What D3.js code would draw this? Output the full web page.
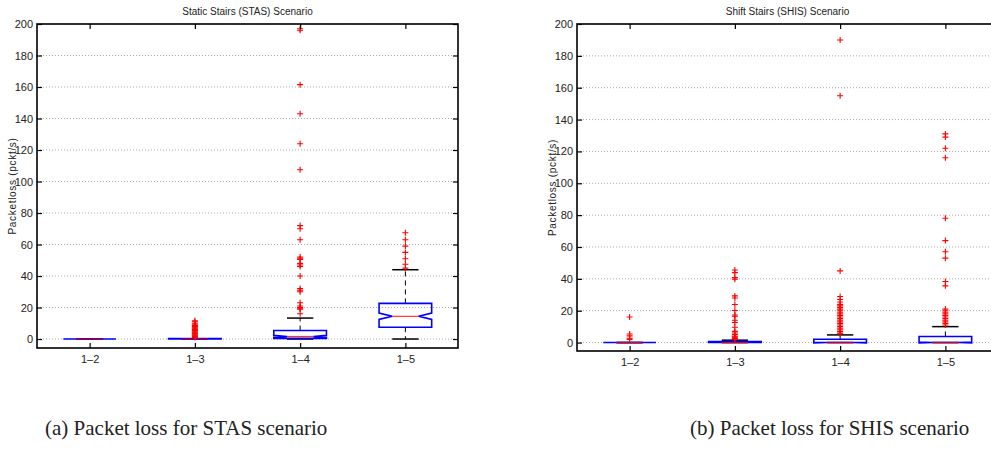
<!DOCTYPE html>
<html>
<head>
<meta charset="utf-8">
<script src="https://cdn.jsdelivr.net/npm/d3@7"></script>
<style>
  body { margin: 0; background: #fff; }
  .chart text { fill: #222; }
</style>
</head>
<body>
<svg class="chart"></svg>
<script>
const width = 991;
const height = 451;

const categories = ['1\u20132', '1\u20133', '1\u20134', '1\u20135'];
const yTicks = [0, 20, 40, 60, 80, 100, 120, 140, 160, 180, 200];

// Static Stairs (STAS)
const stasQ1 = [0, 0, 0.4, 7.5];
const stasMedian = [0, 0, 1.6, 14.4];
const stasQ3 = [0, 0.3, 5.4, 22.6];
const stasNotchLo = [0, 0, 0.9, 12.4];
const stasNotchHi = [0, 0, 2.3, 16.5];
const stasWhiskerLo = [0, 0, 0, 0];
const stasWhiskerHi = [0, 0, 13.3, 44];
const stasOutliers = [
    [],
    [1, 1.5, 2, 2.5, 3, 3.5, 4, 4.5, 5, 5.5, 6, 6.5, 7, 7.5, 8, 8.5, 9, 10, 11, 11.6],
    [197, 196, 161.5, 143, 124, 107.5, 72, 70, 63, 52, 51, 50.5, 48, 47, 46, 40, 32, 31, 30, 23, 21, 20, 19.5, 19, 16],
    [67.5, 63, 59, 55, 51, 47.5, 45]
];

// Shift Stairs (SHIS)
const shisQ1 = [0, 0, 0, 0];
const shisMedian = [0, 0, 0, 0];
const shisQ3 = [0, 0.6, 2.1, 3.8];
const shisNotchLo = [0, 0, -0.2, -0.3];
const shisNotchHi = [0, 0, 0.2, 0.3];
const shisWhiskerLo = [0, 0, 0, 0];
const shisWhiskerHi = [0, 1.5, 4.8, 10];
const shisOutliers = [
    [16, 5.4, 4.2, 2.7, 2],
    [45.6, 43.9, 40.8, 39.8, 29.3, 28, 23.9, 20.1, 17.3, 16.5, 14, 12.6, 9.6, 7, 6, 5, 4, 3.5, 3, 2.5, 2],
    [190, 155, 45, 28.9, 27, 25.5, 24, 23, 22, 21, 20, 19, 18, 17, 16, 15, 14, 13, 12, 11, 10, 9, 8, 7, 6, 5.5],
    [131, 129, 122, 116, 78, 64, 57, 53, 38.3, 35.6, 21, 20, 19, 18, 17, 16, 15, 14, 13, 12, 11]
];

const chart = d3.select('.chart')
    .attr('width', width)
    .attr('height', height);

function buildRows(q1, med, q3, nlo, nhi, wlo, whi, out) {
    return categories.map((c, i) => ({
        cat: c, q1: q1[i], med: med[i], q3: q3[i],
        nlo: nlo[i], nhi: nhi[i], wlo: wlo[i], whi: whi[i], out: out[i]
    }));
}

function drawPanel(cfg) {
    const { left, right, top, bottom, yMin, title, caption, captionX, rows } = cfg;

    const xScale = d3.scalePoint()
        .domain(categories)
        .range([left, right])
        .padding(0.5);
    const step = xScale.step();

    const yScale = d3.scaleLinear()
        .domain([yMin, 200])
        .range([bottom, top]);

    const g = chart.append('g');

    // grid
    g.append('g')
        .selectAll('line')
        .data(yTicks)
        .enter()
        .append('line')
        .attr('x1', left)
        .attr('x2', right)
        .attr('y1', d => yScale(d))
        .attr('y2', d => yScale(d))
        .attr('stroke', '#a8a8a8')
        .attr('stroke-width', 1)
        .attr('stroke-dasharray', '1,2');

    const boxW = step * 0.5;
    const capW = boxW * 0.5;

    const boxes = g.selectAll('.box')
        .data(rows)
        .enter()
        .append('g')
        .attr('class', 'box');

    // whiskers (dashed)
    boxes.append('line')
        .attr('x1', d => xScale(d.cat)).attr('x2', d => xScale(d.cat))
        .attr('y1', d => yScale(d.q3)).attr('y2', d => yScale(d.whi))
        .attr('stroke', '#000').attr('stroke-width', 1)
        .attr('stroke-dasharray', '5,4');
    boxes.append('line')
        .attr('x1', d => xScale(d.cat)).attr('x2', d => xScale(d.cat))
        .attr('y1', d => yScale(d.q1)).attr('y2', d => yScale(d.wlo))
        .attr('stroke', '#000').attr('stroke-width', 1)
        .attr('stroke-dasharray', '5,4');
    // whisker caps
    ['whi', 'wlo'].forEach(k => {
        boxes.append('line')
            .attr('x1', d => xScale(d.cat) - capW / 2)
            .attr('x2', d => xScale(d.cat) + capW / 2)
            .attr('y1', d => yScale(d[k])).attr('y2', d => yScale(d[k]))
            .attr('stroke', '#000').attr('stroke-width', 1.5);
    });

    // notched box
    boxes.append('path')
        .attr('fill', 'none')
        .attr('stroke', '#0000ff')
        .attr('stroke-width', 1.6)
        .attr('d', d => {
            const cx = xScale(d.cat);
            const x0 = cx - boxW / 2, x1 = cx + boxW / 2;
            const n0 = cx - boxW / 4, n1 = cx + boxW / 4;
            const p = d3.path();
            p.moveTo(x0, yScale(d.q1));
            p.lineTo(x0, yScale(d.nlo));
            p.lineTo(n0, yScale(d.med));
            p.lineTo(x0, yScale(d.nhi));
            p.lineTo(x0, yScale(d.q3));
            p.lineTo(x1, yScale(d.q3));
            p.lineTo(x1, yScale(d.nhi));
            p.lineTo(n1, yScale(d.med));
            p.lineTo(x1, yScale(d.nlo));
            p.lineTo(x1, yScale(d.q1));
            p.closePath();
            return p.toString();
        });

    // median
    boxes.append('line')
        .attr('x1', d => xScale(d.cat) - boxW / 4)
        .attr('x2', d => xScale(d.cat) + boxW / 4)
        .attr('y1', d => yScale(d.med)).attr('y2', d => yScale(d.med))
        .attr('stroke', '#ff0000').attr('stroke-width', 1.2)
        .attr('stroke-opacity', 0.8);

    // outliers
    const pts = [];
    rows.forEach(r => r.out.forEach(v => pts.push({ cat: r.cat, v })));
    g.append('g')
        .selectAll('path')
        .data(pts)
        .enter()
        .append('path')
        .attr('transform', d => `translate(${xScale(d.cat)},${yScale(d.v)})`)
        .attr('d', 'M-3,0H3M0,-3V3')
        .attr('stroke', '#ff0000')
        .attr('stroke-width', 1.1)
        .attr('fill', 'none');

    /*----- AXES ------*/
    const font = '"Liberation Sans Narrow", "Liberation Sans", Arial, sans-serif';

    const yAxis = g.append('g')
        .attr('transform', `translate(${left}, 0)`)
        .call(d3.axisLeft(yScale).tickValues(yTicks).tickSize(-5).tickPadding(4));
    yAxis.selectAll('text').style('font-family', font).style('font-size', '11px');

    g.append('g')
        .attr('transform', `translate(${right}, 0)`)
        .call(d3.axisRight(yScale).tickValues(yTicks).tickSize(-5).tickFormat(''));

    const xAxis = g.append('g')
        .attr('transform', `translate(0, ${bottom})`)
        .call(d3.axisBottom(xScale).tickSize(-5).tickPadding(7));
    xAxis.selectAll('text').style('font-family', font).style('font-size', '11px');

    g.append('g')
        .attr('transform', `translate(0, ${top})`)
        .call(d3.axisTop(xScale).tickSize(-5).tickFormat(''));

    g.selectAll('.domain').remove();
    g.selectAll('.tick line').attr('stroke', '#000').attr('stroke-width', 1.2);

    g.append('rect')
        .attr('x', left).attr('y', top)
        .attr('width', right - left).attr('height', bottom - top)
        .attr('fill', 'none')
        .attr('stroke', '#000')
        .attr('stroke-width', 1.6);

    // title, y label, caption
    g.append('text')
        .attr('x', (left + right) / 2)
        .attr('y', top - 9)
        .attr('text-anchor', 'middle')
        .style('font-family', font)
        .style('font-size', '10px')
        .text(title);

    g.append('text')
        .attr('transform', `translate(${left - 21}, ${(top + bottom) / 2}) rotate(-90)`)
        .attr('text-anchor', 'middle')
        .style('font-family', '"Liberation Sans", Arial, sans-serif')
        .style('font-size', '10px')
        .style('letter-spacing', '0.7px')
        .text('Packetloss (pckt/s)');

    chart.append('text')
        .attr('x', captionX)
        .attr('y', 435)
        .style('font-family', '"Liberation Serif", "DejaVu Serif", serif')
        .style('font-size', '21px')
        .text(caption);
}

drawPanel({
    left: 37, right: 458, top: 24, bottom: 348, yMin: -5.7,
    title: 'Static Stairs (STAS) Scenario',
    caption: '(a) Packet loss for STAS scenario',
    captionX: 45,
    rows: buildRows(stasQ1, stasMedian, stasQ3, stasNotchLo, stasNotchHi, stasWhiskerLo, stasWhiskerHi, stasOutliers)
});

drawPanel({
    left: 577, right: 998, top: 24, bottom: 351, yMin: -5.3,
    title: 'Shift Stairs (SHIS) Scenario',
    caption: '(b) Packet loss for SHIS scenario',
    captionX: 690,
    rows: buildRows(shisQ1, shisMedian, shisQ3, shisNotchLo, shisNotchHi, shisWhiskerLo, shisWhiskerHi, shisOutliers)
});
</script>
</body>
</html>
